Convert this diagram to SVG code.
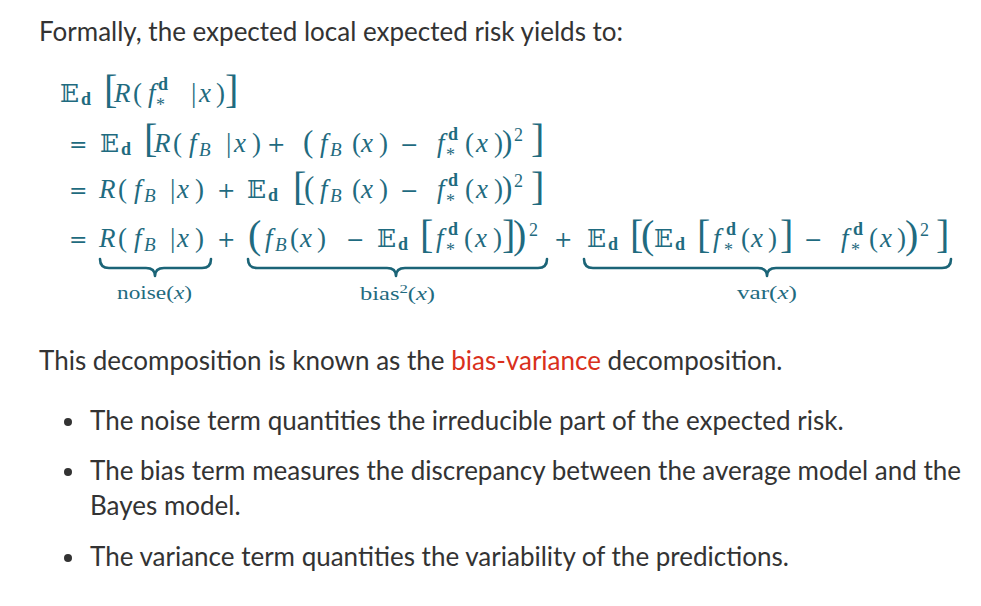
<svg xmlns="http://www.w3.org/2000/svg" width="981" height="606" viewBox="0 0 981 606">
<style>
.t{font-family:Lato,"Open Sans",sans-serif;font-size:26px;fill:#333}
.red{fill:#d9301c}
.m{font-family:"Liberation Serif","DejaVu Serif",serif;font-style:italic;font-size:27px;fill:#1f6b80}
.u{font-style:normal}
.op{font-family:"DejaVu Serif",serif;font-style:normal;font-size:22px}
.bb{font-family:"DejaVu Serif","DejaVu Sans",serif;font-style:normal;font-size:25px}
.sb{font-weight:bold;font-style:normal;font-size:18px}
.si{font-size:19px}
.sup{font-style:normal;font-size:18px}
.p1{font-style:normal;font-size:27px}
.p2{font-style:normal;font-size:31px}
.big{font-style:normal;font-size:40px}
.lab{font-family:"Liberation Serif","DejaVu Serif",serif;font-size:19px;fill:#1f6b80}
.brace{fill:none;stroke:#1b6477;stroke-width:2.6;stroke-linecap:round;stroke-linejoin:round}
</style>
<rect width="981" height="606" fill="#fff"/>
<text class="t" x="39" y="41">Formally, the expected local expected risk yields to:</text>

<g id="line1" class="m">
<text class="bb" x="60" y="102">𝔼</text><text class="sb" x="81" y="105">d</text>
<text class="big" x="104" y="103">[</text>
<text x="114" y="102">R</text><text class="p1" x="133" y="102">(</text>
<text x="148" y="102">f</text><text class="sb" x="158" y="90">d</text><text class="sup" x="156" y="111">*</text>
<text class="u" x="191" y="102">|</text><text x="199" y="102">x</text><text class="p1" x="216" y="102">)</text>
<text class="big" x="225" y="103">]</text>
</g>

<g id="line2" class="m">
<text class="op" x="69" y="152">=</text>
<text class="bb" x="100" y="152">𝔼</text><text class="sb" x="121" y="155">d</text>
<text class="big" x="144" y="152">[</text>
<text x="154" y="152">R</text><text class="p1" x="173" y="152">(</text>
<text x="189" y="152">f</text><text class="si" x="199" y="156">B</text>
<text class="u" x="226" y="152">|</text><text x="234" y="152">x</text><text class="p1" x="252" y="152">)</text>
<text class="op" x="267" y="152">+</text>
<text class="p2" x="303" y="152">(</text>
<text x="320" y="152">f</text><text class="si" x="330" y="156">B</text>
<text class="p1" x="352" y="152">(</text><text x="361" y="152">x</text><text class="p1" x="379" y="152">)</text>
<text class="op" x="400" y="152">−</text>
<text x="437" y="152">f</text><text class="sb" x="448" y="140">d</text><text class="sup" x="446" y="161">*</text>
<text class="p1" x="465" y="152">(</text><text x="476" y="152">x</text><text class="p1" x="494" y="152">)</text>
<text class="p2" x="502" y="152">)</text><text class="sup" x="514" y="141">2</text>
<text class="big" x="531" y="152">]</text>
</g>

<g id="line3" class="m">
<text class="op" x="69" y="198">=</text>
<text x="99" y="198">R</text><text class="p1" x="118" y="198">(</text>
<text x="134" y="198">f</text><text class="si" x="144" y="202">B</text>
<text class="u" x="170" y="198">|</text><text x="177" y="198">x</text><text class="p1" x="195" y="198">)</text>
<text class="op" x="217" y="198">+</text>
<text class="bb" x="247" y="198">𝔼</text><text class="sb" x="268" y="201">d</text>
<text class="big" x="293" y="200">[</text>
<text class="p2" x="304" y="198">(</text>
<text x="320" y="198">f</text><text class="si" x="330" y="202">B</text>
<text class="p1" x="352" y="198">(</text><text x="361" y="198">x</text><text class="p1" x="379" y="198">)</text>
<text class="op" x="400" y="198">−</text>
<text x="437" y="198">f</text><text class="sb" x="448" y="186">d</text><text class="sup" x="446" y="207">*</text>
<text class="p1" x="465" y="198">(</text><text x="476" y="198">x</text><text class="p1" x="494" y="198">)</text>
<text class="p2" x="502" y="198">)</text><text class="sup" x="514" y="187">2</text>
<text class="big" x="531" y="200">]</text>
</g>

<g id="line4" class="m">
<text class="op" x="69" y="247">=</text>
<text x="99" y="247">R</text><text class="p1" x="118" y="247">(</text>
<text x="134" y="247">f</text><text class="si" x="144" y="251">B</text>
<text class="u" x="170" y="247">|</text><text x="177" y="247">x</text><text class="p1" x="195" y="247">)</text>
<text class="op" x="217" y="247">+</text>
<text class="big" x="248" y="248">(</text>
<text x="265" y="247">f</text><text class="si" x="275" y="251">B</text>
<text class="p1" x="290" y="247">(</text><text x="300" y="247">x</text><text class="p1" x="317" y="247">)</text>
<text class="op" x="346" y="247">−</text>
<text class="bb" x="377" y="247">𝔼</text><text class="sb" x="398" y="250">d</text>
<text class="big" x="420" y="248">[</text>
<text x="436" y="247">f</text><text class="sb" x="448" y="235">d</text><text class="sup" x="446" y="256">*</text>
<text class="p1" x="464" y="247">(</text><text x="475" y="247">x</text><text class="p1" x="493" y="247">)</text>
<text class="big" x="502" y="248">]</text>
<text class="big" x="513" y="248">)</text><text class="sup" x="529" y="236">2</text>
<text class="op" x="554" y="247">+</text>
<text class="bb" x="587" y="247">𝔼</text><text class="sb" x="608" y="250">d</text>
<text class="big" x="630" y="248">[</text>
<text class="big" x="641" y="248">(</text>
<text class="bb" x="654" y="247">𝔼</text><text class="sb" x="675" y="250">d</text>
<text class="big" x="697" y="248">[</text>
<text x="713" y="247">f</text><text class="sb" x="726" y="235">d</text><text class="sup" x="724" y="256">*</text>
<text class="p1" x="741" y="247">(</text><text x="751" y="247">x</text><text class="p1" x="768" y="247">)</text>
<text class="big" x="780" y="248">]</text>
<text class="op" x="804" y="247">−</text>
<text x="841" y="247">f</text><text class="sb" x="853" y="235">d</text><text class="sup" x="851" y="256">*</text>
<text class="p1" x="869" y="247">(</text><text x="880" y="247">x</text><text class="p1" x="897" y="247">)</text>
<text class="big" x="905" y="248">)</text><text class="sup" x="920" y="236">2</text>
<text class="big" x="936" y="248">]</text>
</g>

<g id="braces">
<path class="brace" d="M100,259 Q100,268 109,268 L146,268 Q155,268 155,276 Q155,268 164,268 L202,268 Q211,268 211,259"/>
<path class="brace" d="M248,259 Q248,268 257,268 L387,268 Q396,268 396,276 Q396,268 405,268 L538,268 Q547,268 547,259"/>
<path class="brace" d="M584,259 Q584,268 593,268 L758,268 Q767,268 767,276 Q767,268 776,268 L942,268 Q951,268 951,259"/>
</g>
<g id="labels">
<text class="lab" x="117" y="299" textLength="75" lengthAdjust="spacingAndGlyphs">noise(<tspan font-style="italic">x</tspan>)</text>
<text class="lab" x="360" y="300" textLength="75" lengthAdjust="spacingAndGlyphs">bias<tspan font-size="13" dy="-7">2</tspan><tspan dy="7">(</tspan><tspan font-style="italic">x</tspan>)</text>
<text class="lab" x="737" y="299" textLength="60" lengthAdjust="spacingAndGlyphs">var(<tspan font-style="italic">x</tspan>)</text>
</g>

<text class="t" x="39" y="370">This decomposition is known as the <tspan class="red">bias-variance</tspan> decomposition.</text>

<g id="bullets">
<circle cx="68" cy="422" r="4" fill="#333"/>
<text class="t" x="90" y="430">The noise term quantities the irreducible part of the expected risk.</text>
<circle cx="68" cy="472" r="4" fill="#333"/>
<text class="t" x="90" y="480">The bias term measures the discrepancy between the average model and the</text>
<text class="t" x="90" y="515">Bayes model.</text>
<circle cx="68" cy="558" r="4" fill="#333"/>
<text class="t" x="90" y="566">The variance term quantities the variability of the predictions.</text>
</g>
</svg>
